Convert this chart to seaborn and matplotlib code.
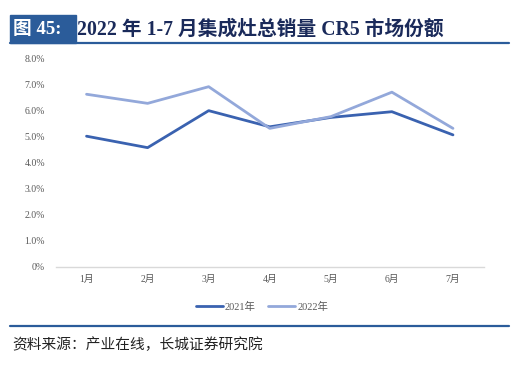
import pandas as pd
import seaborn as sns
import matplotlib.pyplot as plt
from matplotlib.patches import Rectangle
from matplotlib.lines import Line2D

# 数据
months = ['1月', '2月', '3月', '4月', '5月', '6月', '7月']
share_2021 = [5.01, 4.57, 5.99, 5.37, 5.73, 5.95, 5.06]
share_2022 = [6.62, 6.27, 6.91, 5.31, 5.76, 6.70, 5.31]
yticks = [0, 1, 2, 3, 4, 5, 6, 7, 8]
ytick_labels = ['0%', '1.0%', '2.0%', '3.0%', '4.0%', '5.0%', '6.0%', '7.0%', '8.0%']

df = pd.DataFrame({
    'month': months * 2,
    'share': share_2021 + share_2022,
    'year': ['2021年'] * 7 + ['2022年'] * 7,
})

sns.set_style('white')
serif = ['Liberation Serif', 'Noto Sans CJK SC']
plt.rcParams['font.family'] = serif

fig = plt.figure(figsize=(5.14, 3.65), dpi=100)
ax = fig.add_axes([56 / 514, 1 - 266.7 / 365, (483.5 - 56) / 514, (266.7 - 58.3) / 365])

colors = {'2021年': '#3A62B0', '2022年': '#93A8DA'}
sns.lineplot(data=df, x='month', y='share', hue='year', palette=colors,
             linewidth=2.0, sort=False, legend=False, ax=ax)

ax.set_xlim(-0.5, 6.5)
ax.set_ylim(0, 8)
ax.set_yticks(yticks)
ax.set_yticklabels(ytick_labels)
ax.set_xlabel('')
ax.set_ylabel('')
for s in ['top', 'right', 'left']:
    ax.spines[s].set_visible(False)
ax.spines['bottom'].set_color('#D9D9D9')
ax.spines['bottom'].set_linewidth(1.0)
ax.tick_params(axis='both', length=0, labelsize=7, colors='#595959', pad=8)
ax.tick_params(axis='x', pad=6)

# 图例
handles = [Line2D([], [], color=colors[k], linewidth=2.0) for k in colors]
fig.legend(handles, list(colors), loc='center', bbox_to_anchor=(262 / 514, 1 - 307 / 365),
           ncol=2, frameon=False, fontsize=7.5, handlelength=2.6, columnspacing=1.2,
           handletextpad=0.2, labelcolor='#595959')

# 标题
fig.patches.append(Rectangle((10 / 514, 1 - 43 / 365), 66 / 514, 28 / 365,
                             transform=fig.transFigure, color='#2B5C9A', zorder=1))
fig.add_artist(Line2D([10 / 514, 509 / 514], [1 - 42.5 / 365] * 2, color='#2B5C9A',
                      linewidth=1.6, transform=fig.transFigure))
fig.text(13 / 514, 1 - 30 / 365, '图 45:', color='white', fontsize=13.5,
         fontweight='bold', va='center', ha='left', family=serif)
fig.text(77 / 514, 1 - 30 / 365, '2022 年 1-7 月集成灶总销量 CR5 市场份额', color='#1A2A5A',
         fontsize=14.2, fontweight='bold', va='center', ha='left', family=serif)

# 底部
fig.add_artist(Line2D([10 / 514, 509 / 514], [1 - 326 / 365] * 2, color='#2B5C9A',
                      linewidth=1.6, transform=fig.transFigure))
fig.text(12 / 514, 1 - 345 / 365, '资料来源：产业在线，长城证券研究院', color='#222222',
         fontsize=10.6, style='italic', va='center', ha='left', family=serif)

fig.savefig('out.png', dpi=100)
